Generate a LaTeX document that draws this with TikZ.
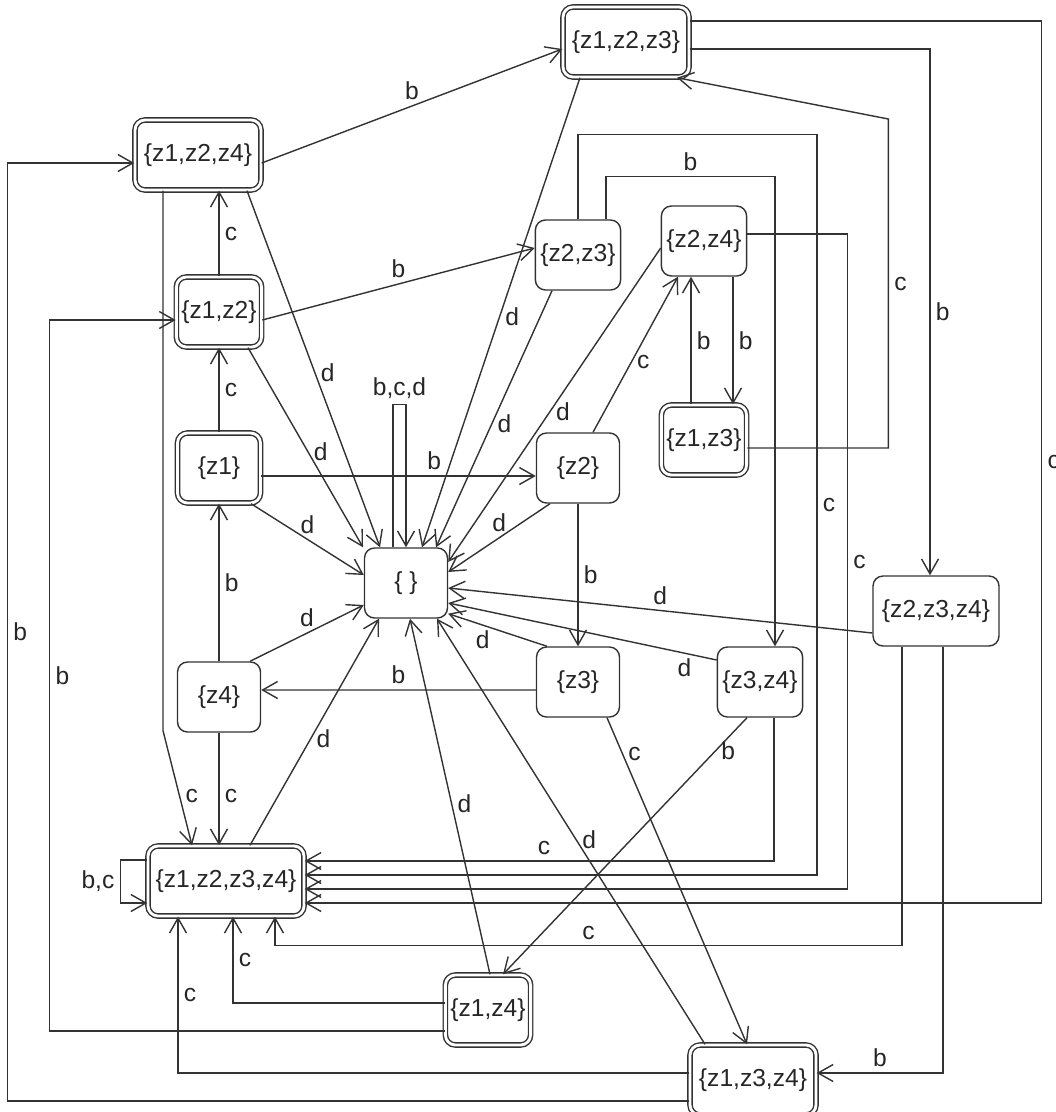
\documentclass[tikz,border=0pt]{standalone}
\usepackage{fontspec}
\setmainfont{Liberation Sans}
\usetikzlibrary{arrows.meta,calc}

\begin{document}
\begin{tikzpicture}[
  x=0.02cm,y=-0.02cm,
  state/.style={draw=black!80,line width=0.8pt,rounded corners=2mm,fill=white,minimum width=16.6mm,minimum height=14mm,inner sep=1mm,font=\fontsize{14}{16}\selectfont,text=black!85},
  accept/.style={state,double,double distance=1.6pt},
  wide/.style={minimum width=25.2mm},
  arr/.style={-{Straight Barb[length=3mm,width=3.4mm]},line width=0.8pt,draw=black!80},
  lbl/.style={font=\fontsize{14}{16}\selectfont,text=black!85,inner sep=3pt}
]
\useasboundingbox (0,0) rectangle (1055,1112);

\node[accept,wide] (z123) at (626,42) {\{z1,z2,z3\}};
\node[accept,wide] (z124) at (198,155) {\{z1,z2,z4\}};
\node[accept] (z12) at (219,312) {\{z1,z2\}};
\node[state] (z23) at (578,255) {\{z2,z3\}};
\node[state] (z24) at (704,241) {\{z2,z4\}};
\node[accept] (z13) at (704,440) {\{z1,z3\}};
\node[accept] (z1) at (219,468) {\{z1\}};
\node[state] (z2) at (578,468) {\{z2\}};
\node[state] (empty) at (406,583) {\{ \}};
\node[state,wide] (z234) at (936,611) {\{z2,z3,z4\}};
\node[state] (z4) at (219,697) {\{z4\}};
\node[state] (z3) at (578,682) {\{z3\}};
\node[state] (z34) at (760,682) {\{z3,z4\}};
\node[accept,minimum width=31.2mm] (z1234) at (226,881) {\{z1,z2,z3,z4\}};
\node[accept] (z14) at (488,1010) {\{z1,z4\}};
\node[accept,wide] (z134) at (753,1080) {\{z1,z3,z4\}};

\draw[arr] (z12) -- node[lbl,right]{c} (z12 |- z124.south);
\draw[arr] (z1) -- node[lbl,right]{c} (z1 |- z12.south);
\draw[arr] (z4) -- node[lbl,right]{b} (z4 |- z1.south);
\draw[arr] (z4) -- node[lbl,right,pos=0.56]{c} (z4 |- z1234.north);

\draw[arr] ([yshift=-1.6mm]z124.east) -- node[lbl,above]{b} ([yshift=-1.4mm]z123.west);
\draw[arr] ([xshift=9.8mm]z124.south) -- node[lbl,right,pos=0.51]{d} ([xshift=-5.2mm]empty.north);
\draw[arr] ([xshift=-7mm]z124.south) -- ++(0,540) -- node[lbl,right,pos=0.57]{c} ([xshift=-6.8mm]z1234.north);

\draw[arr] ([yshift=-1.6mm]z12.east) -- node[lbl,above]{b} ([yshift=1.4mm]z23.west);
\draw[arr] ([xshift=5.8mm]z12.south) -- node[lbl,right,pos=0.52]{d} ([xshift=-8.6mm]empty.north);

\draw[arr] ([yshift=-1.6mm]z1.east) -- node[lbl,above,pos=0.63]{b} ([yshift=-1.6mm]z2.west);
\draw[arr] ([xshift=6.4mm]z1.south) -- node[lbl,above]{d} ([yshift=1.6mm]empty.west);
\draw[arr] ([xshift=6.2mm]z4.north) -- node[lbl,above]{d} ([yshift=-4.4mm]empty.west);

\draw[arr] ([xshift=4.8mm]z1234.north) -- node[lbl,right,pos=0.47]{d} ([xshift=-5.4mm]empty.south);
\draw[arr] ([yshift=4.2mm]z1234.west) -- ++(-27,0) |- node[lbl,left,pos=0.25]{b,c} ([yshift=-4.4mm]z1234.west);
\draw[arr] ([xshift=-2.6mm]empty.north) -- ++(0,-143) -| node[lbl,above,pos=0.25]{b,c,d} (empty.north);

\draw[arr] ([xshift=-9.2mm]z123.south) -- node[lbl,right,pos=0.51]{d} ([xshift=3.2mm]empty.north);
\draw[arr] ([yshift=-1.4mm]z123.east) -| node[lbl,right,pos=0.75]{b} ([xshift=-1.2mm]z234.north);
\draw[arr] ([yshift=4.2mm]z123.east) -- ++(352,0) |- node[lbl,right,pos=0.25]{c} ([yshift=-4.4mm]z1234.east);

\draw[arr] ([xshift=-5.2mm]z23.south) -- node[lbl,right,pos=0.52]{d} ([xshift=6mm]empty.north);
\draw[arr] ([xshift=5.6mm]z23.north) -- ++(0,-43) -| node[lbl,above,pos=0.25]{b} ([xshift=3mm]z34.north);
\draw[arr] (z23.north) -- ++(0,-85) -- ++(239,0) |- node[lbl,right,pos=0.25]{c} ([yshift=1.2mm]z1234.east);

\draw[arr] ([yshift=-1.4mm]z24.west) -- node[lbl,right,pos=0.52]{d} ([yshift=4.2mm]empty.east);
\draw[arr] ([yshift=1.4mm]z24.east) -- ++(100,0) |- node[lbl,right,pos=0.25]{c} ([yshift=-1.6mm]z1234.east);
\draw[arr] ([xshift=5.8mm]z24.south) -- node[lbl,right]{b} ([xshift=5.8mm]z13.north);

\draw[arr] ([xshift=-2.6mm]z13.north) -- node[lbl,right]{b} ([xshift=-2.6mm]z24.south);
\draw[arr] ([yshift=-1.6mm]z13.east) -- ++(141,0) -- node[lbl,right]{c} ++(0,-329) -- ([xshift=10.2mm]z123.south);

\draw[arr] ([xshift=3mm]z2.north) -- node[lbl,right,pos=0.45]{c} ([xshift=-5.2mm]z24.south);
\draw[arr] ([xshift=-5.6mm]z2.south) -- node[lbl,above]{d} ([yshift=2.2mm]empty.east);
\draw[arr] (z2) -- node[lbl,right]{b} (z3);

\draw[arr] ([yshift=-1.6mm]z3.west) -- node[lbl,above]{b} ([yshift=1.4mm]z4.east);
\draw[arr] ([xshift=-6.2mm]z3.north) -- node[lbl,below,pos=0.65]{d} ([yshift=1mm]empty.south east);
\draw[arr] ([xshift=5.8mm]z3.south) -- node[lbl,right,pos=0.11]{c} ([xshift=-1.2mm]z134.north);

\draw[arr] ([yshift=4.4mm]z34.west) -- node[lbl,below,pos=0.12]{d} ([yshift=-4mm]empty.east);
\draw[arr] ([xshift=-2.6mm]z34.south) -- node[lbl,right,pos=0.13]{b} ([xshift=3mm]z14.north);
\draw[arr] ([xshift=2.8mm]z34.south) |- node[lbl,above,pos=0.745]{c} ([yshift=4mm]z1234.east);

\draw[arr] ([yshift=-4.4mm]z234.west) -- node[lbl,above]{d} ([yshift=-1mm]empty.east);
\draw[arr] ([xshift=-6.8mm]z234.south) -- ++(0,299) -| node[lbl,above,pos=0.25]{c} ([xshift=9.8mm]z1234.south);
\draw[arr] ([xshift=1.4mm]z234.south) |- node[lbl,above,pos=0.75]{b} ([yshift=1.4mm]z134.east);

\draw[arr] ([xshift=0.4mm]z14.north) -- node[lbl,right,pos=0.48]{d} ([xshift=0.8mm]empty.south);
\draw[arr] ([yshift=1.4mm]z14.west) -| node[lbl,right,pos=0.75]{c} ([xshift=1.4mm]z1234.south);
\draw[arr] ([yshift=-4.2mm]z14.west) -- ++(-395,0) |- node[lbl,right,pos=0.25]{b} ([yshift=-1.6mm]z12.west);

\draw[arr] ([xshift=-9.6mm]z134.north) -- node[lbl,right,pos=0.48]{d} ([xshift=6.2mm]empty.south);
\draw[arr] ([yshift=1.4mm]z134.west) -| node[lbl,right,pos=0.75]{c} ([xshift=-9.6mm]z1234.south);
\draw[arr] ([yshift=-4.2mm]z134.west) -- ++(-682,0) |- node[lbl,right,pos=0.25]{b} ([yshift=-1.6mm]z124.west);
\end{tikzpicture}
\end{document}
